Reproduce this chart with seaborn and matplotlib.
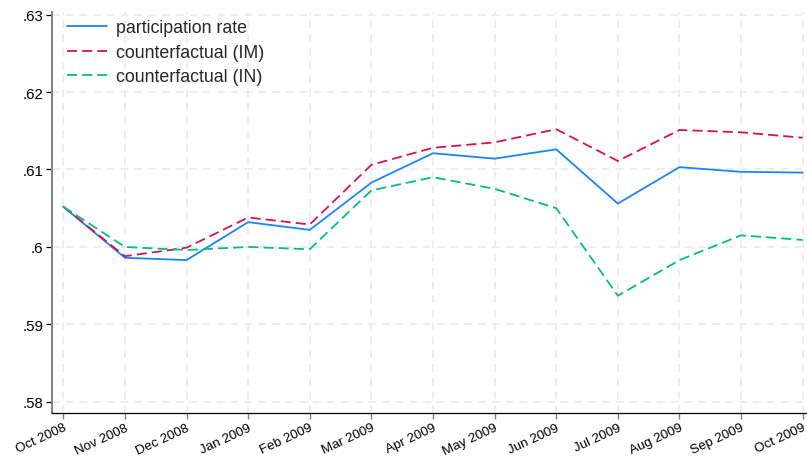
import matplotlib
matplotlib.use("Agg")
import matplotlib.pyplot as plt
import seaborn as sns
import pandas as pd

months = ["Oct 2008", "Nov 2008", "Dec 2008", "Jan 2009", "Feb 2009", "Mar 2009",
          "Apr 2009", "May 2009", "Jun 2009", "Jul 2009", "Aug 2009", "Sep 2009",
          "Oct 2009"]
participation = [0.6052, 0.5986, 0.5983, 0.6032, 0.6022, 0.6083, 0.6121,
                 0.6114, 0.6126, 0.6056, 0.6103, 0.6097, 0.6096]
counter_im = [0.6052, 0.5988, 0.5999, 0.6038, 0.6029, 0.6106, 0.6128,
              0.6135, 0.6152, 0.6111, 0.6151, 0.6148, 0.6141]
counter_in = [0.6052, 0.6000, 0.5996, 0.6000, 0.5997, 0.6073, 0.6090,
              0.6075, 0.6050, 0.5937, 0.5983, 0.6015, 0.6009]
series_names = ["participation rate", "counterfactual (IM)", "counterfactual (IN)"]
y_ticks = [0.58, 0.59, 0.60, 0.61, 0.62, 0.63]
y_tick_labels = [".58", ".59", ".6", ".61", ".62", ".63"]

frames = []
for name, vals in zip(series_names, [participation, counter_im, counter_in]):
    frames.append(pd.DataFrame({"t": range(len(months)), "value": vals, "series": name}))
df = pd.concat(frames, ignore_index=True)

sns.set_theme(style="white")
plt.rcParams["font.family"] = ["Liberation Sans", "DejaVu Sans"]

fig = plt.figure(figsize=(8.07, 4.64), dpi=100)
ax = fig.add_axes([0.0647, 0.1078, 0.9338, 0.8636])

palette = {series_names[0]: "#1a85ff",
           series_names[1]: "#d41159",
           series_names[2]: "#00bf7f"}
dashes = {series_names[0]: "",
          series_names[1]: (5.6, 2.8),
          series_names[2]: (5.6, 2.8)}

sns.lineplot(data=df, x="t", y="value", hue="series", style="series",
             palette=palette, dashes=dashes, hue_order=series_names,
             style_order=series_names, linewidth=1.3, ax=ax)

ax.set_xlim(-0.18, 12.05)
ax.set_ylim(0.57856, 0.6303)
ax.set_xticks(range(len(months)))
ax.set_xticklabels(months, rotation=25, ha="right", va="top",
                   rotation_mode="anchor", fontsize=9.6, color="black")
ax.set_yticks(y_ticks)
ax.set_yticklabels(y_tick_labels, fontsize=10.8, color="black")
ax.set_xlabel("")
ax.set_ylabel("")

ax.grid(True, linestyle=(0, (5, 4)), color="#e8e8e8", linewidth=1.1)
ax.set_axisbelow(True)

for side in ["top", "right"]:
    ax.spines[side].set_visible(False)
ax.spines["left"].set_color("#808080")
ax.spines["left"].set_linewidth(1.4)
ax.spines["bottom"].set_color("black")
ax.spines["bottom"].set_linewidth(0.9)

ax.tick_params(axis="y", which="major", direction="out", length=4.5, width=0.9,
               color="black", pad=2, left=True)
ax.tick_params(axis="x", which="major", direction="out", length=4.5, width=1.0,
               color="#808080", pad=1.5, bottom=True)

handles, labels = ax.get_legend_handles_labels()
ax.legend(handles, labels, loc="upper left", frameon=False, fontsize=12.8,
          handlelength=2.25, handletextpad=0.55, labelspacing=0.42,
          borderaxespad=0.0, bbox_to_anchor=(0.0097, 1.0))

fig.savefig("out.png", dpi=100)
